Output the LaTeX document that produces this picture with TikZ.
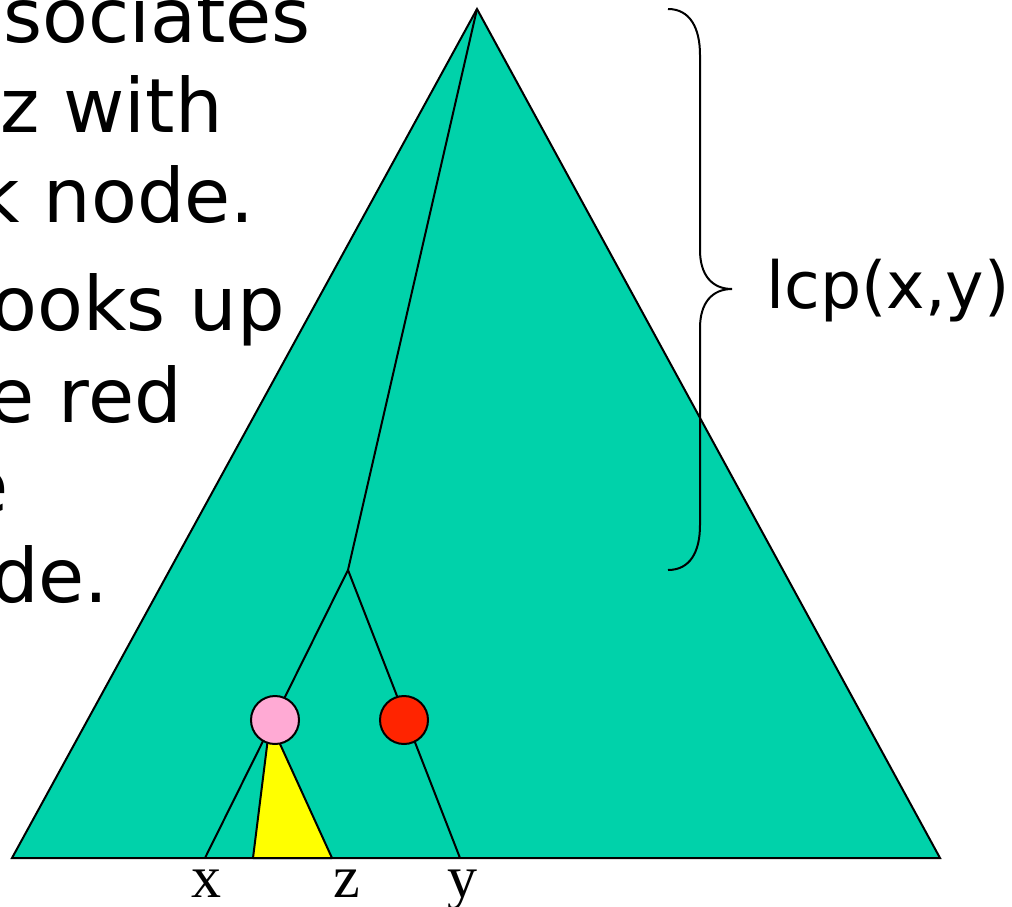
\documentclass[tikz,border=0pt]{standalone}
\usepackage{fontspec}
\setmainfont{DejaVu Sans}
\newfontfamily\serifx{Liberation Serif}
\definecolor{teal}{RGB}{0,210,170}
\definecolor{pinkn}{RGB}{255,170,212}
\definecolor{redn}{RGB}{255,36,0}
\definecolor{yell}{RGB}{255,255,0}
\begin{document}
\begin{tikzpicture}[x=1pt,y=-1pt,
  edge/.style={draw=black,line width=2pt},
  treenode/.style={circle,draw=black,line width=2pt,minimum size=48pt,inner sep=0pt},
  bigtext/.style={font=\fontsize{75}{90}\selectfont,inner sep=0pt,anchor=base east},
  leaf/.style={font=\serifx\fontsize{60}{60}\selectfont,inner sep=0pt,anchor=base}]
\useasboundingbox (0,0) rectangle (1012,907);
\clip (0,0) rectangle (1012,907);
% text
\node[bigtext] (t1) at (311,43) {ssociates};
\node[bigtext] (t2) at (223,132) {z with};
\node[bigtext] (t3) at (255,222) {k node.};
\node[bigtext] (t4) at (285,330) {ooks up};
\node[bigtext] (t5) at (182,422) {e red};
\node[bigtext] (t6) at (9,512) {e};
\node[bigtext] (t7) at (109,602) {de.};
% big triangle
\coordinate (apex) at (477,9);
\coordinate (bl) at (12,858);
\coordinate (br) at (940,858);
\filldraw[fill=teal,draw=black,line width=2pt,line join=miter] (apex) -- (bl) -- (br) -- cycle;
% tree
\coordinate (branch) at (348,570);
\coordinate (xb) at (205,858);
\coordinate (yb) at (460,858);
\coordinate (zl) at (253,858);
\coordinate (zr) at (332,858);
\coordinate (ya) at (270,722);
\filldraw[fill=yell,draw=black,line width=2pt,line join=round] (ya) -- (zl) -- (zr) -- cycle;
\draw[edge] (apex) -- (branch);
\draw[edge] (branch) -- (xb);
\draw[edge] (branch) -- (yb);
\node[treenode,fill=pinkn] (pink) at (275,720) {};
\node[treenode,fill=redn] (red) at (404,720) {};
\draw[black,line width=2pt] (bl) -- (br);
% labels
\node[leaf] (lx) at (206,897) {x};
\node[leaf] (lz) at (347,897) {z};
\node[leaf] (ly) at (462,897) {y};
% brace
\coordinate (btop) at (668,9);
\coordinate (btip) at (732,289);
\coordinate (bbot) at (668,570);
\draw[line width=2pt] (btop) .. controls (690,9) and (700,28) .. (700,55) -- (700,250)
  .. controls (700,275) and (712,289) .. (btip)
  .. controls (712,289) and (700,303) .. (700,328) -- (700,525)
  .. controls (700,552) and (690,570) .. (bbot);
\node[font=\fontsize{65}{65}\selectfont,inner sep=0pt,anchor=base west] (lcp) at (766,308) {lcp(x,y)};
\end{tikzpicture}
\end{document}
